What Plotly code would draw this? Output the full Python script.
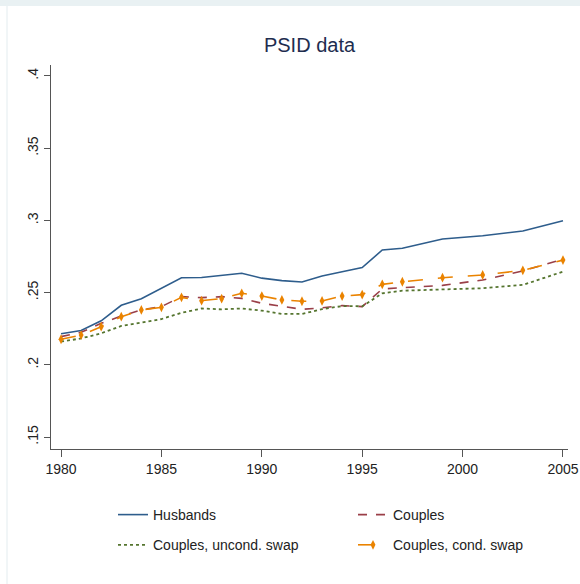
import plotly.graph_objects as go

years = [1980, 1981, 1982, 1983, 1984, 1985, 1986, 1987, 1988, 1989, 1990,
         1991, 1992, 1993, 1994, 1995, 1996, 1997, 1999, 2001, 2003, 2005]

husbands = [0.2215, 0.2238, 0.2305, 0.2412, 0.2458, 0.2530, 0.2603, 0.2605,
            0.2622, 0.2634, 0.2600, 0.2583, 0.2573, 0.2615, 0.2645, 0.2673,
            0.2795, 0.2807, 0.2871, 0.2894, 0.2927, 0.2998]

couples = [0.2195, 0.2225, 0.2287, 0.2338, 0.2380, 0.2403, 0.2472, 0.2465,
           0.2472, 0.2460, 0.2426, 0.2407, 0.2384, 0.2395, 0.2410, 0.2403,
           0.2525, 0.2534, 0.2550, 0.2587, 0.2650, 0.2731]

uncond_swap = [0.2160, 0.2183, 0.2218, 0.2269, 0.2292, 0.2317, 0.2360, 0.2390,
               0.2384, 0.2390, 0.2375, 0.2352, 0.2352, 0.2385, 0.2407, 0.2405,
               0.2495, 0.2513, 0.2522, 0.2530, 0.2553, 0.2645]

cond_swap = [0.2177, 0.2206, 0.2264, 0.2333, 0.2380, 0.2398, 0.2467, 0.2444,
             0.2458, 0.2495, 0.2476, 0.2449, 0.2440, 0.2442, 0.2476, 0.2486,
             0.2557, 0.2575, 0.2603, 0.2622, 0.2654, 0.2725]

x_ticks = [1980, 1985, 1990, 1995, 2000, 2005]
y_ticks = [0.15, 0.2, 0.25, 0.3, 0.35, 0.4]
y_tick_labels = [".15", ".2", ".25", ".3", ".35", ".4"]

FONT = "Liberation Sans, Arial, sans-serif"

fig = go.Figure()
fig.add_trace(go.Scatter(x=years, y=husbands, name="Husbands", mode="lines",
                         legend="legend", legendgroup="a",
                         line=dict(color="#2e5d8c", width=1.6)))
fig.add_trace(go.Scatter(x=years, y=couples, name="Couples", mode="lines",
                         legend="legend2", legendgroup="b",
                         line=dict(color="#9a3f48", width=1.6, dash="dash")))
fig.add_trace(go.Scatter(x=years, y=uncond_swap, name="Couples, uncond. swap", mode="lines",
                         legend="legend", legendgroup="c",
                         line=dict(color="#55752f", width=1.8, dash="dot")))
fig.add_trace(go.Scatter(x=years, y=cond_swap, name="Couples, cond. swap", mode="lines+markers",
                         legend="legend2", legendgroup="d",
                         line=dict(color="#ea8300", width=1.6, dash="longdash"),
                         marker=dict(symbol="diamond-tall", size=7, color="#ea8300")))

W, H = 580, 584
L, R, T, B = 51, 12, 65, 135

def px_x(p):
    return (p - L) / (W - L - R)

def px_y(p):
    return (H - B - p) / (H - T - B)

legend_common = dict(orientation="v", xref="container", yref="container",
                     xanchor="left", yanchor="top", tracegroupgap=9,
                     font=dict(family=FONT, size=14, color="#222222"),
                     bgcolor="rgba(0,0,0,0)")

fig.update_layout(
    width=W, height=H, autosize=False,
    margin=dict(l=L, r=R, t=T, b=B, autoexpand=False),
    paper_bgcolor="white", plot_bgcolor="white",
    font=dict(family=FONT, size=14, color="#222222"),
    title=dict(text="PSID data", x=0.5, xref="paper", xanchor="center",
               y=1 - 45 / H, yref="container", yanchor="middle",
               font=dict(family=FONT, size=20, color="#1e2d4f")),
    xaxis=dict(range=[1979.5, 2005.25], tickvals=x_ticks, ticktext=[str(v) for v in x_ticks],
               showgrid=False, zeroline=False, showline=True, linecolor="#555555", linewidth=1,
               ticks="outside", ticklen=7, tickcolor="#555555",
               tickfont=dict(family=FONT, size=14, color="#222222")),
    yaxis=dict(range=[0.1417, 0.4076], tickvals=y_ticks, ticktext=y_tick_labels,
               showgrid=False, zeroline=False, showline=True, linecolor="#555555", linewidth=1,
               ticks="outside", ticklen=6, tickcolor="#555555", tickangle=-90,
               tickfont=dict(family=FONT, size=14, color="#222222")),
    legend=dict(x=113 / W, y=1 - 499 / H, **legend_common),
    legend2=dict(x=353 / W, y=1 - 499 / H, **legend_common),
    showlegend=True,
    shapes=[
        dict(type="rect", xref="paper", yref="paper", x0=px_x(-5), x1=px_x(W + 5),
             y0=px_y(6), y1=px_y(-5), fillcolor="#e9f1f3", line=dict(width=0), layer="below"),
        dict(type="line", xref="paper", yref="paper", x0=px_x(7), x1=px_x(7),
             y0=px_y(6), y1=px_y(H + 5), line=dict(color="#e3ecef", width=1), layer="below"),
    ],
)

fig.write_html("out.html",
               config={"displayModeBar": False},
               post_script="document.body.style.margin='0';document.body.style.overflow='hidden';")
